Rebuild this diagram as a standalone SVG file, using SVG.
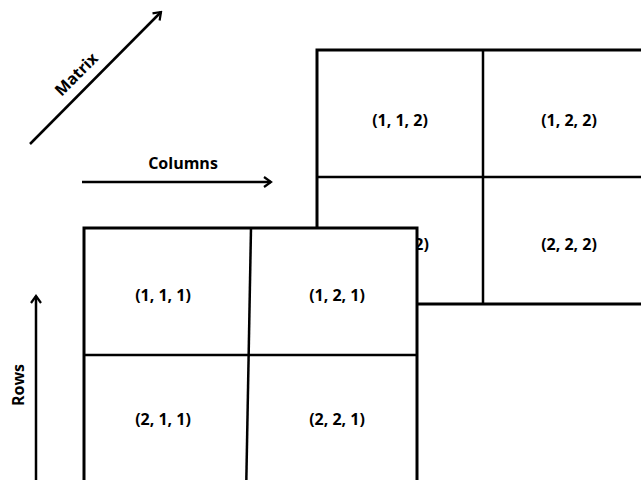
<svg xmlns="http://www.w3.org/2000/svg" width="641" height="480" viewBox="0 0 641 480">
<style>
.lbl{font-family:"Open Sans","Noto Sans",sans-serif;font-weight:bold;font-size:16px;fill:#000;text-anchor:middle;dominant-baseline:central}
.outer{fill:#fff;stroke:#000;stroke-width:3}
.div{stroke:#000;stroke-width:2.5;fill:none}
.arr{stroke:#000;stroke-width:2.5;fill:none;marker-end:url(#ah)}
</style>
<defs>
<marker id="ah" viewBox="0 0 10 12" refX="8" refY="6" markerWidth="10" markerHeight="12" markerUnits="userSpaceOnUse" orient="auto">
<path d="M1,1 L8,6 L1,11" fill="none" stroke="#000" stroke-width="2.2"/>
</marker>
</defs>
<rect width="641" height="480" fill="#fff"/>
<g id="back-matrix">
<rect class="outer" x="317" y="50" width="340" height="254"/>
<line class="div" x1="317" y1="177" x2="657" y2="177"/>
<line class="div" x1="483" y1="50" x2="483" y2="304"/>
<text class="lbl" x="400" y="120">(1, 1, 2)</text>
<text class="lbl" x="569" y="120">(1, 2, 2)</text>
<text class="lbl" x="401" y="244">(2, 1, 2)</text>
<text class="lbl" x="569" y="244">(2, 2, 2)</text>
</g>
<g id="front-matrix">
<rect class="outer" x="84" y="228" width="333" height="270"/>
<line class="div" x1="84" y1="355" x2="417" y2="355"/>
<line class="div" x1="251" y1="228" x2="246" y2="498"/>
<text class="lbl" x="163" y="295">(1, 1, 1)</text>
<text class="lbl" x="337" y="295">(1, 2, 1)</text>
<text class="lbl" x="163" y="419">(2, 1, 1)</text>
<text class="lbl" x="337" y="419">(2, 2, 1)</text>
</g>
<g id="connectors">
<line class="arr" x1="30" y1="144" x2="161" y2="12"/>
<line class="arr" x1="82" y1="182" x2="271" y2="182"/>
<line class="arr" x1="36" y1="482" x2="36" y2="296"/>
</g>
<g id="labels">
<text class="lbl" x="183" y="163">Columns</text>
<text class="lbl" transform="translate(76,74) rotate(-45)" x="0" y="0">Matrix</text>
<text class="lbl" transform="translate(18,385) rotate(-90)" x="0" y="0">Rows</text>
</g>
</svg>
